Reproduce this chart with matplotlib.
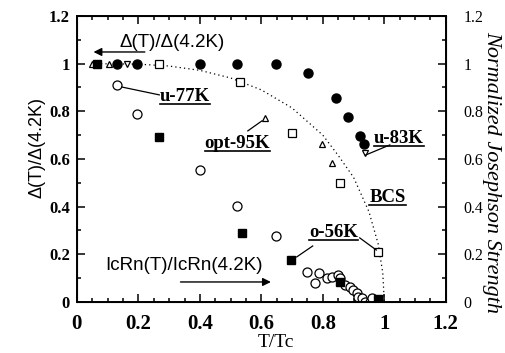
import matplotlib
matplotlib.use('Agg')
import matplotlib.pyplot as plt
from matplotlib.ticker import MultipleLocator, FixedLocator, FixedFormatter

# gap ratio data
u83_x = [0.13, 0.195, 0.40, 0.52, 0.647, 0.751, 0.842, 0.881, 0.920, 0.933]
u83_y = [1.0, 1.0, 1.0, 1.0, 1.0, 0.961, 0.856, 0.776, 0.697, 0.663]

u77_x = [0.13, 0.195, 0.40, 0.52, 0.647]
u77_y = [0.91, 0.789, 0.554, 0.403, 0.277]

opt95_x = [0.048, 0.105, 0.611, 0.797, 0.829]
opt95_y = [1.0, 1.0, 0.772, 0.663, 0.583]

tri_dn_x = [0.163, 0.937]
tri_dn_y = [1.0, 0.625]

o56_x = [0.064, 0.267, 0.537, 0.696, 0.855, 0.979]
o56_y = [1.0, 0.692, 0.29, 0.176, 0.084, 0.013]

sq_open_x = [0.267, 0.53, 0.70, 0.855, 0.98]
sq_open_y = [1.0, 0.925, 0.71, 0.50, 0.21]

# IcRn cluster near Tc
ic_x = [0.748, 0.787, 0.774, 0.813, 0.829, 0.849, 0.855, 0.872, 0.888,
        0.898, 0.911, 0.914, 0.927, 0.937, 0.953, 0.959]
ic_y = [0.126, 0.122, 0.080, 0.101, 0.105, 0.113, 0.101, 0.071, 0.063,
        0.050, 0.038, 0.021, 0.017, 0.0, 0.0, 0.017]

# BCS curve points
bcs_t = [0.05, 0.2, 0.3, 0.4, 0.5, 0.6, 0.7, 0.8, 0.85, 0.9, 0.95, 0.98, 0.995, 1.0]
bcs_d = [1.0, 0.998, 0.99, 0.972, 0.94, 0.89, 0.814, 0.70, 0.615, 0.523, 0.379, 0.244, 0.122, 0.0]

tick_vals = [0, 0.2, 0.4, 0.6, 0.8, 1.0, 1.2]
tick_txt = ['0', '0.2', '0.4', '0.6', '0.8', '1', '1.2']

serif = 'Liberation Serif'
sans = 'Liberation Sans'

fig = plt.figure(figsize=(5.06, 3.53), dpi=100)
ax = fig.add_axes([0.152, 0.1445, 0.729, 0.8102])

ax.plot(bcs_t, bcs_d, color='black', lw=0.9, linestyle=(0, (1, 2.5)))

ms = 6.5
ax.plot(u77_x, u77_y, 'o', mfc='white', mec='black', ms=ms, mew=0.9)
ax.plot(ic_x, ic_y, 'o', mfc='white', mec='black', ms=ms, mew=0.9)
ax.plot(sq_open_x, sq_open_y, 's', mfc='white', mec='black', ms=6, mew=0.9)
ax.plot(opt95_x, opt95_y, '^', mfc='white', mec='black', ms=5, mew=0.9)
ax.plot(tri_dn_x, tri_dn_y, 'v', mfc='white', mec='black', ms=5, mew=0.9)
ax.plot(o56_x, o56_y, 's', mfc='black', mec='black', ms=6)
ax.plot(u83_x, u83_y, 'o', mfc='black', mec='black', ms=ms)

ax.set_xlim(0, 1.2)
ax.set_ylim(0, 1.2)

for s in ax.spines.values():
    s.set_linewidth(1.4)

ax.xaxis.set_major_locator(FixedLocator(tick_vals))
ax.xaxis.set_major_formatter(FixedFormatter(tick_txt))
ax.yaxis.set_major_locator(FixedLocator(tick_vals))
ax.yaxis.set_major_formatter(FixedFormatter(tick_txt))
ax.xaxis.set_minor_locator(MultipleLocator(0.05))
ax.yaxis.set_minor_locator(MultipleLocator(0.1))
ax.tick_params(which='both', direction='in', top=True, right=True, width=1.1)
ax.tick_params(which='major', length=6)
ax.tick_params(which='minor', length=3)
ax.tick_params(axis='x', pad=9)
ax.tick_params(axis='y', pad=5)
for lab in ax.get_xticklabels():
    lab.set_fontfamily(serif)
    lab.set_fontweight('bold')
    lab.set_fontsize(15)
for lab in ax.get_yticklabels():
    lab.set_fontfamily(serif)
    lab.set_fontweight('bold')
    lab.set_fontsize(12)

ax2 = ax.twinx()
ax2.set_ylim(0, 1.2)
ax2.yaxis.set_major_locator(FixedLocator(tick_vals))
ax2.yaxis.set_major_formatter(FixedFormatter(tick_txt))
ax2.yaxis.set_minor_locator(MultipleLocator(0.1))
ax2.tick_params(which='both', direction='in', width=1.1, pad=12.5)
ax2.tick_params(which='major', length=6)
ax2.tick_params(which='minor', length=3)
for lab in ax2.get_yticklabels():
    lab.set_fontfamily(serif)
    lab.set_fontsize(11.5)

ax.set_xlabel('T/Tc', fontfamily=serif, fontsize=14)
ax.xaxis.set_label_coords(0.54, -0.112)
ax.set_ylabel('Δ(T)/Δ(4.2K)', fontfamily=sans, fontsize=13)
ax.yaxis.set_label_coords(-0.085, 0.54)
ax2.set_ylabel('Normalized Josephson Strength', fontfamily=serif,
               fontstyle='italic', fontsize=16, rotation=-90)
ax2.yaxis.set_label_coords(1.15, 0.455)

# arrows with their texts
ax.text(0.31, 1.087, 'Δ(T)/Δ(4.2K)', fontfamily=sans, fontsize=13.5,
        ha='center', va='center')
ax.annotate('', xy=(0.045, 1.049), xytext=(0.23, 1.049),
            arrowprops=dict(arrowstyle='-|>', color='black', lw=1.0,
                            mutation_scale=12))
ax.text(0.348, 0.155, 'IcRn(T)/IcRn(4.2K)', fontfamily=sans, fontsize=13.5,
        ha='center', va='center')
ax.annotate('', xy=(0.64, 0.084), xytext=(0.328, 0.084),
            arrowprops=dict(arrowstyle='-|>', color='black', lw=1.0,
                            mutation_scale=12))

# underlined sample labels
labels = [
    ('u-77K', 0.351, 0.862),
    ('opt-95K', 0.522, 0.665),
    ('u-83K', 1.047, 0.686),
    ('BCS', 1.010, 0.438),
    ('o-56K', 0.836, 0.292),
]
txts = []
for name, lx, ly in labels:
    t = ax.text(lx, ly, name, fontfamily=serif, fontweight='bold',
                fontsize=13.5, ha='center', va='center')
    txts.append(t)

# leader lines
leaders = [
    ([0.146, 0.268], [0.902, 0.869]),
    ([0.556, 0.602], [0.718, 0.76]),
    ([0.940, 1.018], [0.617, 0.659]),
    ([0.715, 0.767], [0.189, 0.235]),
    ([0.920, 0.974], [0.269, 0.218]),
]
for lx, ly in leaders:
    ax.plot(lx, ly, color='black', lw=0.9)

fig.canvas.draw()
W, H = fig.get_size_inches() * fig.dpi
for t in txts:
    bb = t.get_window_extent()
    yb = bb.y0 + 1
    fig.add_artist(plt.Line2D([bb.x0 / W, bb.x1 / W], [yb / H, yb / H],
                              color='black', lw=1.2))

fig.savefig('out.png', dpi=100)
